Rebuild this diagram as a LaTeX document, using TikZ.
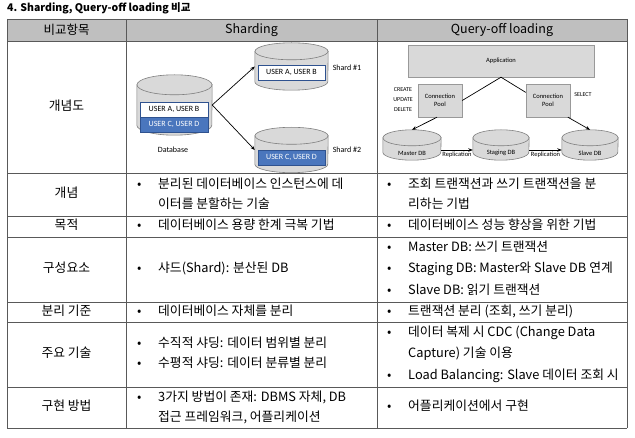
\documentclass[tikz,border=0pt]{standalone}
\usepackage{fontspec}
\setmainfont{Noto Sans CJK KR}
\newfontfamily\diag{Carlito}
\usetikzlibrary{arrows.meta}
\definecolor{rule}{HTML}{595959}
\definecolor{head}{HTML}{BFBFBF}
\definecolor{drumgray}{HTML}{D9D9D9}
\definecolor{drumline}{HTML}{7F7F7F}
\definecolor{userblue}{HTML}{4A76BD}
\definecolor{userline}{HTML}{2F528F}
\tikzset{
  cell/.style={anchor=west,inner sep=0pt,text height=10pt,text depth=3pt,font=\fontsize{12.8}{15}\selectfont},
  headcell/.style={inner sep=0pt,font=\fontsize{12.5}{14}\selectfont},
  drum/.style={draw=drumline,fill=drumgray,line width=0.6pt},
  plate/.style={rectangle,draw=drumline!80,fill=drumgray,inner sep=0pt,font=\diag\fontsize{6.5}{7.5}\selectfont},
  userbox/.style={rectangle,draw=userline,line width=0.8pt,minimum width=68pt,minimum height=15pt,inner sep=0pt,font=\diag\fontsize{8}{9}\selectfont},
  tag/.style={inner sep=1pt,font=\diag\fontsize{8}{9}\selectfont},
  small/.style={inner sep=1pt,font=\diag\fontsize{6.5}{7.5}\selectfont},
  flow/.style={-{Stealth[length=4.5pt,width=3.5pt]},line width=0.7pt},
  wire/.style={line width=0.7pt}
}
\begin{document}
\begin{tikzpicture}[x=1pt,y=-1pt]
  \useasboundingbox (0,0) rectangle (635,438);
  \node[anchor=west,inner sep=0pt,font=\bfseries\fontsize{10.5}{12}\selectfont] (title) at (7,8) {4. Sharding, Query-off loading 비교};
  % table
  \fill[head] (7,19) rectangle (627,41);
  \foreach \y in {19,41,173,216,237,302,322,387,428}{
    \draw[rule,line width=0.8pt] (7,\y) -- (627,\y);
  }
  \foreach \x in {7,126,377,627}{
    \draw[rule,line width=0.8pt] (\x,19) -- (\x,428);
  }
  \node[headcell] (hItem) at (66.5,30) {비교항목};
  \node[headcell] (hShard) at (251.5,30) {Sharding};
  \node[headcell] (hQuery) at (502,30) {Query-off loading};
  \def \Items{
    107/개념도,
    194.5/개념,
    226.5/목적,
    269.5/구성요소,
    312/분리 기준,
    354.5/주요 기술,
    407.5/구현 방법}
  \foreach \y / \t [count=\i] in \Items{
    \node[cell,anchor=center] (item\i) at (66.5,\y) {\t};
  }
  \def \Dots{
    137/185, 137/226.5, 137/269.5, 137/312, 137/344.5, 137/364.5, 137/398,
    387/185, 387/226.5, 387/248, 387/269.5, 387/291, 387/312, 387/333, 387/376, 387/407.5}
  \foreach \x / \y [count=\i] in \Dots{
    \node[cell] (dot\i) at (\x,\y) {•};
  }
  \def \Lines{
    158/185/{분리된 데이터베이스 인스턴스에 데},
    158/205/{이터를 분할하는 기술},
    158/226.5/{데이터베이스 용량 한계 극복 기법},
    158/269.5/{샤드(Shard): 분산된 DB},
    158/312/{데이터베이스 자체를 분리},
    158/344.5/{수직적 샤딩: 데이터 범위별 분리},
    158/364.5/{수평적 샤딩: 데이터 분류별 분리},
    158/398/{3가지 방법이 존재: DBMS 자체, DB},
    158/418/{접근 프레임워크, 어플리케이션},
    408/185/{조회 트랜잭션과 쓰기 트랜잭션을 분},
    408/205/{리하는 기법},
    408/226.5/{데이터베이스 성능 향상을 위한 기법},
    408/248/{Master DB: 쓰기 트랜잭션},
    408/269.5/{Staging DB: Master와 Slave DB 연계},
    408/291/{Slave DB: 읽기 트랜잭션},
    408/312/{트랜잭션 분리 (조회, 쓰기 분리)},
    408/333/{데이터 복제 시 CDC (Change Data},
    408/354.5/{Capture) 기술 이용},
    408/376/{Load Balancing: Slave 데이터 조회 시},
    408/407.5/{어플리케이션에서 구현}}
  \foreach \x / \y / \t [count=\i] in \Lines{
    \node[cell] (line\i) at (\x,\y) {\t};
  }
  % cylinders: name/x/y/width/height/cap
  \def \Drums{
    db/174.5/105/75/60/10,
    shardA/291.5/66.5/73/47/8.5,
    shardB/291.5/150/73/45/8.5,
    master/412/145/58/30/8,
    staging/501/145/56/30/8,
    slave/590/145/56/30/8}
  \foreach \id / \x / \y / \w / \h / \r in \Drums{
    \node[minimum width=\w pt,minimum height=\h pt,inner sep=0pt] (\id) at (\x,\y) {};
    \path[drum] ([yshift=-\r pt]\id.north west) -- ([yshift=\r pt]\id.south west)
      arc[start angle=180,end angle=360,x radius=\w pt/2,y radius=\r pt]
      -- ([yshift=-\r pt]\id.north east) -- cycle;
    \path[drum] ([yshift=-\r pt]\id.north) ellipse[x radius=\w pt/2,y radius=\r pt];
  }
  % sharding
  \node[userbox,fill=white] (dbAB) at (174,109.5) {USER A, USER B};
  \node[userbox,fill=userblue,text=white] (dbCD) at (174,124.5) {USER C, USER D};
  \node[userbox,fill=white,minimum width=67pt] (shAB) at (291.5,72.5) {USER A, USER B};
  \node[userbox,fill=userblue,text=white,minimum width=67pt] (shCD) at (291.5,157.5) {USER C, USER D};
  \node[tag] (dbName) at (173,150) {Database};
  \node[tag] (shardAName) at (347,68) {Shard \#1};
  \node[tag] (shardBName) at (347,150) {Shard \#2};
  \draw[flow] (db.east) -- (shardA.west);
  \draw[flow] (db.east) -- (shardB.west);
  % query-off loading
  \node[plate,minimum width=186pt,minimum height=32pt] (app) at (501,61) {Application};
  \node[plate,minimum width=44pt,minimum height=33pt,align=center] (poolW) at (440,100.5) {Connection\\Pool};
  \node[plate,minimum width=44pt,minimum height=33pt,align=center] (poolR) at (548,100.5) {Connection\\Pool};
  \node[small,align=center,font=\diag\fontsize{6}{10}\selectfont] (crud) at (403,100) {CREATE\\UPDATE\\DELETE};
  \node[small,font=\diag\fontsize{6}{7}\selectfont] (select) at (583,95) {SELECT};
  \node[small] (masterName) at (412,153) {Master DB};
  \node[small] (stagingName) at (501,153) {Staging DB};
  \node[small] (slaveName) at (590,153) {Slave DB};
  \draw[wire] (app.south) -- (poolW.east);
  \draw[wire] (app.south) -- (poolR.160);
  \draw[flow] (poolW.-100) -- (master.north);
  \draw[flow] (poolR.-40) -- (slave.north);
  \draw[flow] ([yshift=-5pt]master.east) -- node[small,below=1pt] (repA) {Replication} ([yshift=-5pt]staging.west);
  \draw[flow] ([yshift=-5pt]staging.east) -- node[small,below=1pt] (repB) {Replication} ([yshift=-5pt]slave.west);
\end{tikzpicture}
\end{document}
